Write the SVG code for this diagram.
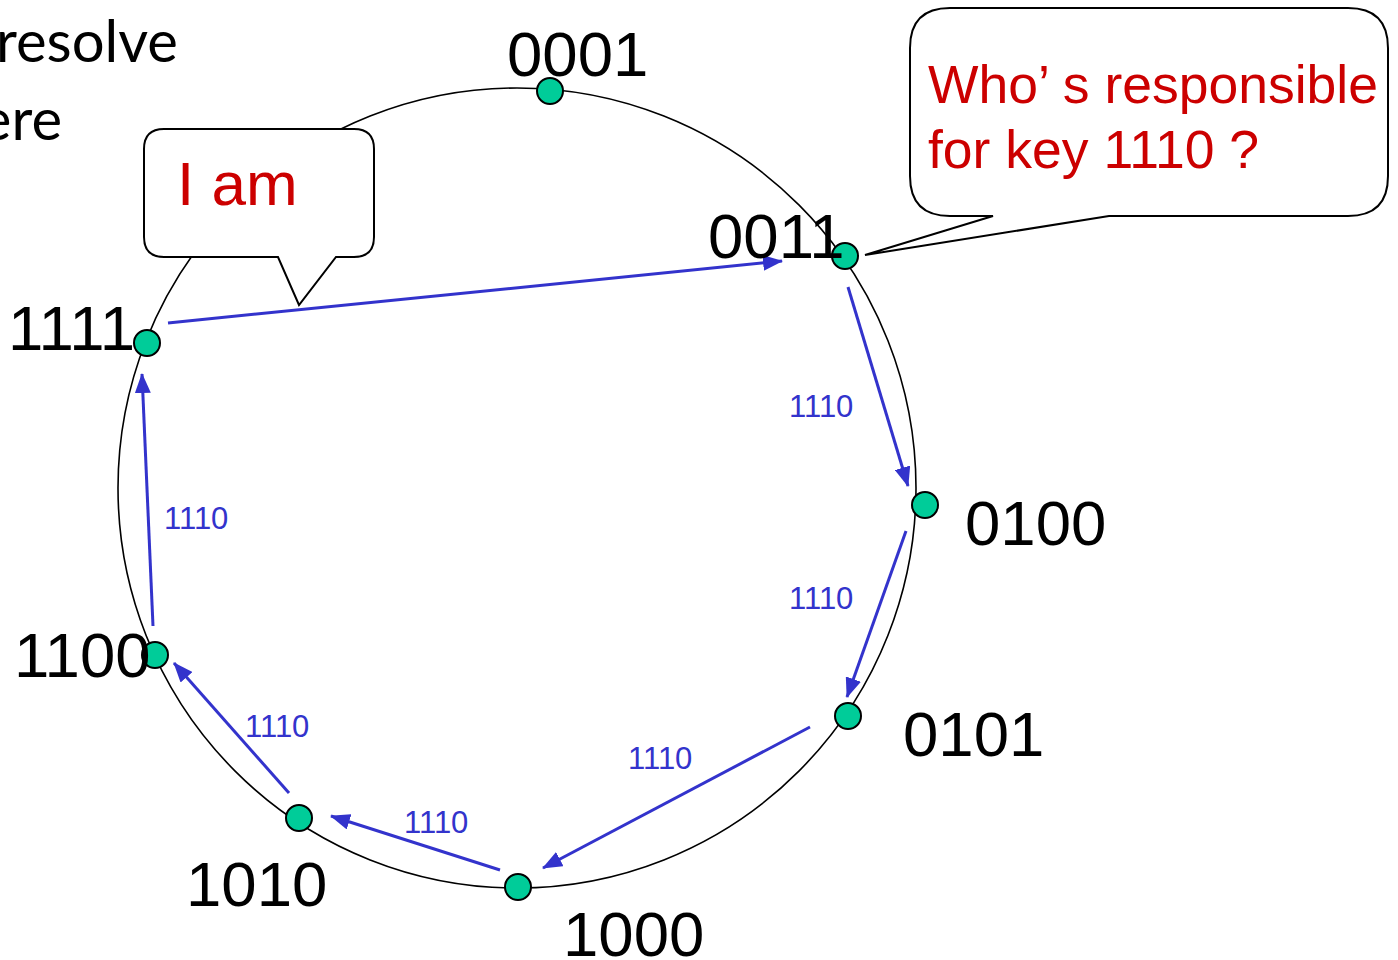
<svg xmlns="http://www.w3.org/2000/svg" width="1398" height="960" viewBox="0 0 1398 960">
<defs>
<style>
.ring{fill:none;stroke:#000;stroke-width:1.6}
.dot{fill:#00CC99;stroke:#000;stroke-width:2}
.lbl{font-family:"Liberation Sans",Arial,sans-serif;font-size:63.5px;fill:#000}
.el{font-family:"Liberation Sans",Arial,sans-serif;font-size:31px;fill:#3333CC}
.red{font-family:"Liberation Sans",Arial,sans-serif;fill:#CC0000}
.top{font-family:"Lato","Open Sans",sans-serif;font-size:58px;fill:#000}
.arr{stroke:#3333CC;stroke-width:3;fill:none;marker-end:url(#ah)}
.call{fill:#fff;stroke:#000;stroke-width:2;stroke-linejoin:miter}
</style>
<marker id="ah" markerUnits="userSpaceOnUse" markerWidth="20" markerHeight="16" refX="19" refY="8" orient="auto">
<path d="M0,0 L20,8 L0,16 z" fill="#3333CC"/>
</marker>
</defs>
<rect width="1398" height="960" fill="#fff"/>
<text class="top" x="178" y="62" text-anchor="end">resolve</text>
<text class="top" x="62" y="140" text-anchor="end">ere</text>
<ellipse class="ring" cx="517" cy="488" rx="399" ry="400"/>
<g id="callout-iam">
<path class="call" d="M164,129 H354 Q374,129 374,149 V237 Q374,257 354,257 H336 L299,305 L278,257 H164 Q144,257 144,237 V149 Q144,129 164,129 Z"/>
<text class="red" x="177" y="205" font-size="62">I am</text>
</g>
<g id="callout-who">
<path class="call" d="M950,8 H1348 Q1388,8 1388,48 V176 Q1388,216 1348,216 H1109 L865,255 L993,216 H950 Q910,216 910,176 V48 Q910,8 950,8 Z"/>
<text class="red" x="928" y="103" font-size="53.5">Who’ s responsible</text>
<text class="red" x="928" y="168" font-size="53.5">for key 1110 ?</text>
</g>
<g id="connectors">
<line class="arr" x1="168" y1="323" x2="782" y2="261"/>
<line class="arr" x1="848" y1="287" x2="908" y2="486"/>
<line class="arr" x1="906" y1="531" x2="847" y2="697"/>
<line class="arr" x1="810" y1="727" x2="543" y2="868"/>
<line class="arr" x1="500" y1="870" x2="331" y2="816"/>
<line class="arr" x1="289" y1="793" x2="174" y2="663"/>
<line class="arr" x1="153" y1="626" x2="142" y2="374"/>
<text class="el" x="789" y="417">1110</text>
<text class="el" x="789" y="609">1110</text>
<text class="el" x="628" y="769">1110</text>
<text class="el" x="404" y="833">1110</text>
<text class="el" x="245" y="737">1110</text>
<text class="el" x="164" y="529">1110</text>
</g>
<g id="n0001"><circle class="dot" cx="550" cy="91" r="13"/><text class="lbl" x="507" y="76">0001</text></g>
<g id="n0011"><circle class="dot" cx="845" cy="256" r="13"/><text class="lbl" x="708" y="258">0011</text></g>
<g id="n0100"><circle class="dot" cx="925" cy="505" r="13"/><text class="lbl" x="965" y="545">0100</text></g>
<g id="n0101"><circle class="dot" cx="848" cy="716" r="13"/><text class="lbl" x="903" y="756">0101</text></g>
<g id="n1000"><circle class="dot" cx="518" cy="887" r="13"/><text class="lbl" x="563" y="956">1000</text></g>
<g id="n1010"><circle class="dot" cx="299" cy="818" r="13"/><text class="lbl" x="186" y="906">1010</text></g>
<g id="n1100"><circle class="dot" cx="155" cy="655" r="13"/><text class="lbl" x="14" y="677">1100</text></g>
<g id="n1111"><circle class="dot" cx="147" cy="343" r="13"/><text class="lbl" x="8" y="350">1111</text></g>
</svg>
